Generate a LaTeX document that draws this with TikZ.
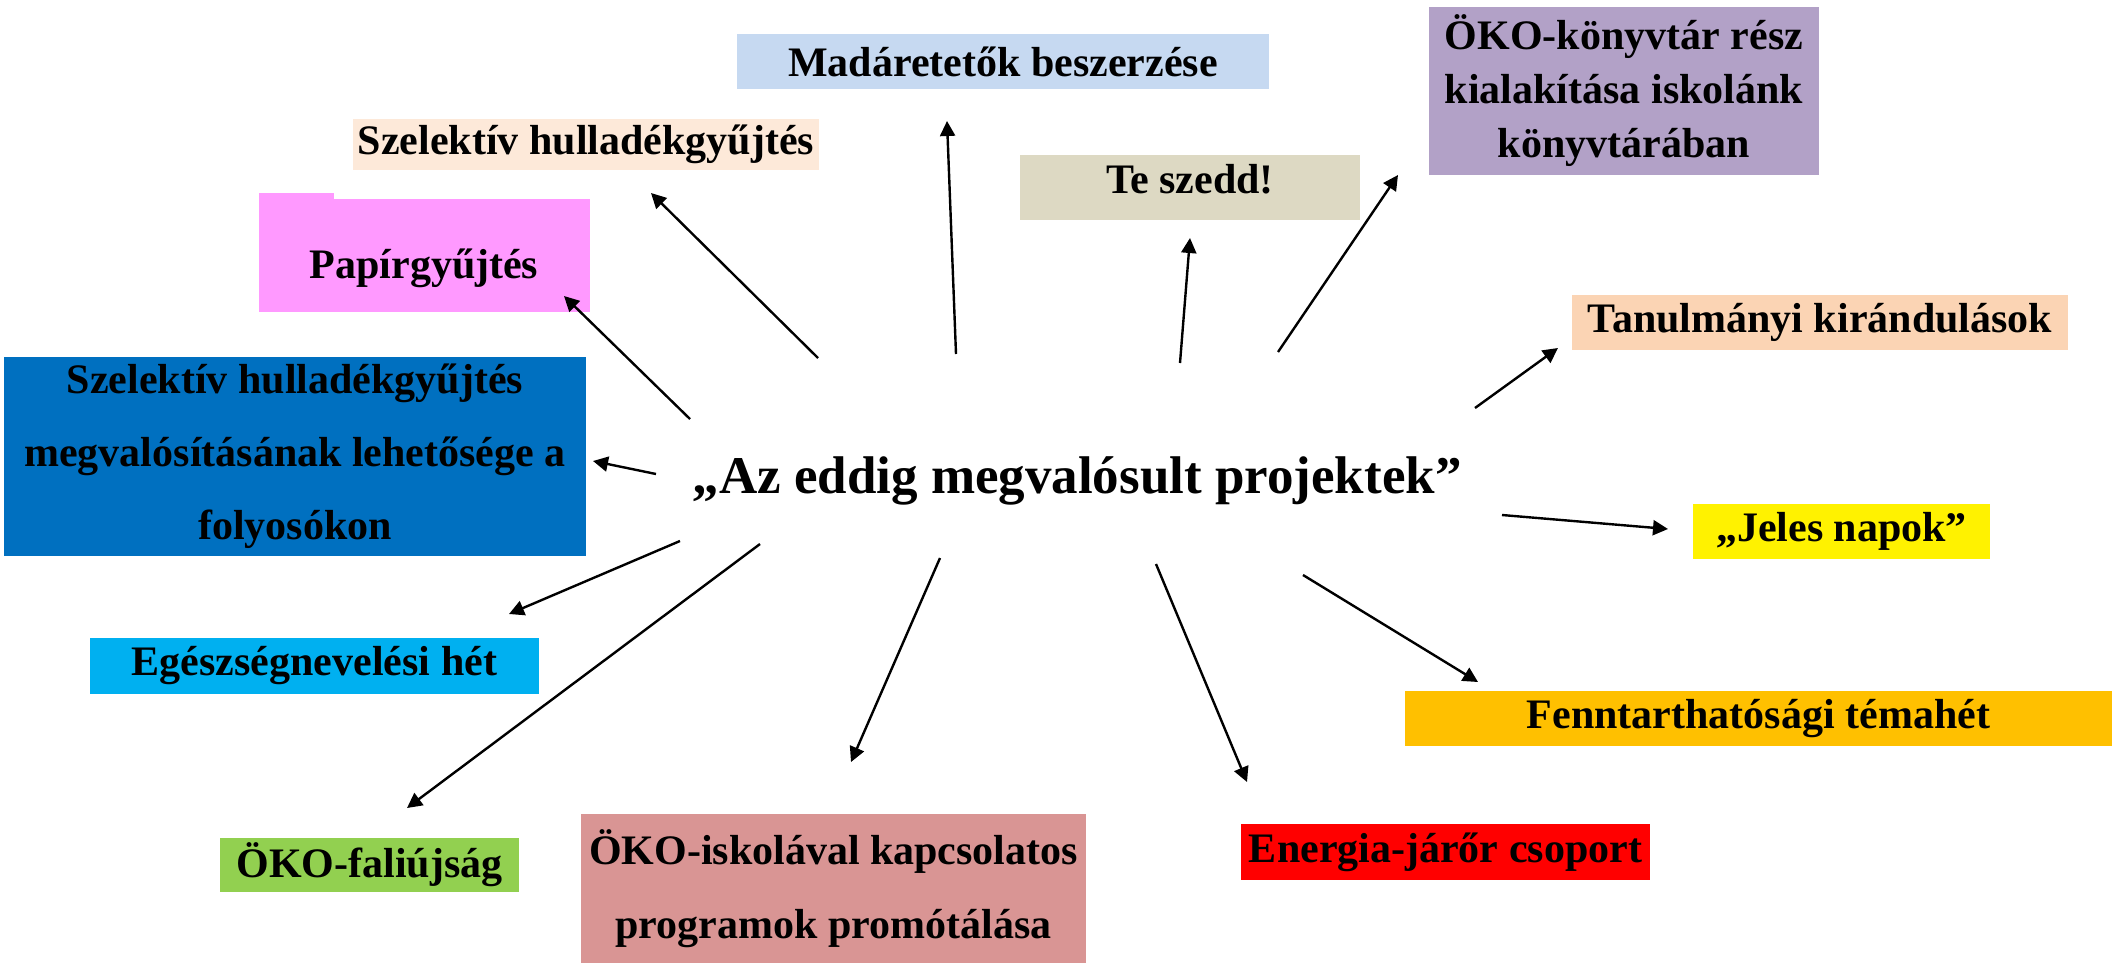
\documentclass[tikz,border=0pt]{standalone}
\usepackage{fontspec}
\setmainfont{Liberation Serif}
\usepackage{tikz}
\usetikzlibrary{arrows.meta}

\definecolor{madarblue}{HTML}{C6D9F1}
\definecolor{szelpeach}{HTML}{FDE9D9}
\definecolor{papirpink}{HTML}{FF99FF}
\definecolor{szeddtan}{HTML}{DDD9C3}
\definecolor{konyvlila}{HTML}{B2A1C7}
\definecolor{kirandpeach}{HTML}{FBD4B4}
\definecolor{folyoblue}{HTML}{0070C0}
\definecolor{egeszcyan}{HTML}{00B0F0}
\definecolor{temaorange}{HTML}{FFC000}
\definecolor{faligreen}{HTML}{92D050}
\definecolor{iskolarose}{HTML}{D99594}

\begin{document}
\begin{tikzpicture}[
            x = 1pt, y = -1pt, % pixel like coordinates
            > = {Triangle[length=15pt, width=15pt]}, % arrow head style
            line width = 2.4pt % line style
        ]

        \tikzstyle{box}=[
            draw = none,
            inner sep = 0pt,
            align = center,
            font = \fontsize{42}{54}\selectfont\bfseries
        ]

        \useasboundingbox (0,0) rectangle (2112,970);

        % boxes
        \node[box, fill = madarblue, minimum width = 532pt, minimum height = 55pt] (madar) at (1003,61.5) {Madáretetők beszerzése};
        \node[box, fill = szelpeach, minimum width = 466pt, minimum height = 51pt] (szel) at (586,144.5) {Szelektív hulladékgyűjtés};
        \fill[papirpink] (259,193) rectangle (334,199);
        \fill[papirpink] (259,199) rectangle (590,312);
        \node[box] (papir) at (424,268) {Papírgyűjtés};
        \node[box, fill = szeddtan, minimum width = 340pt, minimum height = 65pt, text depth = 17pt] (szedd) at (1190,187.5) {Te szedd!};
        \node[box, fill = konyvlila, minimum width = 390pt, minimum height = 168pt] (konyv) at (1624,91) {ÖKO-könyvtár rész\\kialakítása iskolánk\\könyvtárában};
        \node[box, fill = kirandpeach, minimum width = 496pt, minimum height = 55pt] (kirand) at (1820,322.5) {Tanulmányi kirándulások};
        \node[box, fill = folyoblue, minimum width = 582pt, minimum height = 199pt,
              font = \fontsize{42}{73}\selectfont\bfseries] (folyo) at (295,456.5) {Szelektív hulladékgyűjtés\\megvalósításának lehetősége a\\folyosókon};
        \node[box, fill = yellow, minimum width = 297pt, minimum height = 55pt] (jeles) at (1841.5,531.5) {„Jeles napok”};
        \node[box, fill = egeszcyan, minimum width = 449pt, minimum height = 56pt] (egesz) at (314.5,666) {Egészségnevelési hét};
        \node[box, fill = temaorange, minimum width = 707pt, minimum height = 55pt] (tema) at (1758.5,718.5) {Fenntarthatósági témahét};
        \node[box, fill = faligreen, minimum width = 299pt, minimum height = 54pt] (fali) at (369.5,865) {ÖKO-faliújság};
        \node[box, fill = iskolarose, minimum width = 505pt, minimum height = 149pt,
              font = \fontsize{42}{74}\selectfont\bfseries] (iskola) at (833.5,888.5) {ÖKO-iskolával kapcsolatos\\programok promótálása};
        \node[box, fill = red, minimum width = 409pt, minimum height = 56pt] (energia) at (1445.5,852) {Energia-járőr csoport};

        % center
        \node[box, font = \fontsize{53}{60}\selectfont\bfseries] (projektek) at (1077,481) {„Az eddig megvalósult projektek”};

        % arrow ends
        \coordinate (s1) at (818,358);   \coordinate (t1) at (651,193);
        \coordinate (s2) at (690,419);   \coordinate (t2) at (564,296);
        \coordinate (s3) at (656,474);   \coordinate (t3) at (593,461);
        \coordinate (s4) at (956,354);   \coordinate (t4) at (947,121);
        \coordinate (s5) at (1180,363);  \coordinate (t5) at (1190,238);
        \coordinate (s6) at (1278,352);  \coordinate (t6) at (1398,175);
        \coordinate (s7) at (1475,408);  \coordinate (t7) at (1558,348);
        \coordinate (s8) at (1502,515);  \coordinate (t8) at (1668,529);
        \coordinate (s9) at (1303,575);  \coordinate (t9) at (1478,682);
        \coordinate (s10) at (1156,564); \coordinate (t10) at (1247,782);
        \coordinate (s11) at (940,558);  \coordinate (t11) at (851,762);
        \coordinate (s12) at (760,544);  \coordinate (t12) at (407,808);
        \coordinate (s13) at (680,541);  \coordinate (t13) at (509,614);

        \path[->] (s1) edge (t1);
        \path[->] (s2) edge (t2);
        \path[->] (s3) edge (t3);
        \path[->] (s4) edge (t4);
        \path[->] (s5) edge (t5);
        \path[->] (s6) edge (t6);
        \path[->] (s7) edge (t7);
        \path[->] (s8) edge (t8);
        \path[->] (s9) edge (t9);
        \path[->] (s10) edge (t10);
        \path[->] (s11) edge (t11);
        \path[->] (s12) edge (t12);
        \path[->] (s13) edge (t13);

  \end{tikzpicture}
\end{document}
